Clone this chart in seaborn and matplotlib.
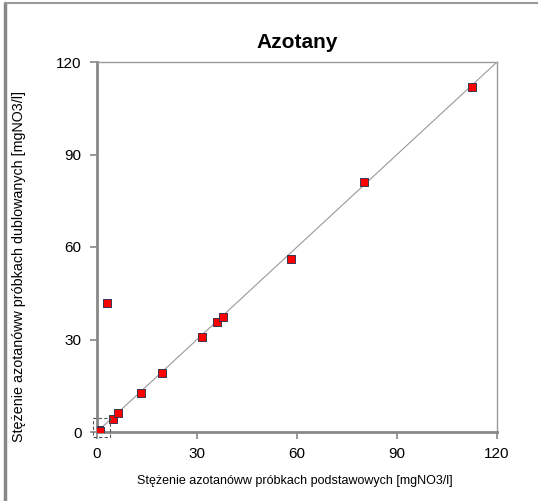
import pandas as pd
import matplotlib.pyplot as plt
import matplotlib.patches as mpatches
import matplotlib.lines as mlines
import seaborn as sns

podstawowe = [0.3, 0.6, 0.9, 3.0, 4.7, 6.4, 13.2, 19.5, 31.4, 35.9, 37.9, 58.2, 80.1, 112.5]
dublowane = [0.2, 0.5, 0.4, 41.8, 4.2, 6.1, 12.7, 19.1, 30.9, 35.6, 37.4, 56.1, 81.1, 111.9]
ticki = [0, 30, 60, 90, 120]
zakres = [0, 120]
ramka_zoom = [-1.1, -1.6, 5.0, 6.1]  # x, y, szer., wys.

df = pd.DataFrame({'x': podstawowe, 'y': dublowane})

sns.set_style("white", {'text.color': 'black', 'axes.labelcolor': 'black',
                        'xtick.color': 'black', 'ytick.color': 'black'})
plt.rcParams['font.family'] = ['Liberation Sans', 'DejaVu Sans']

fig = plt.figure(figsize=(5.38, 5.01), dpi=100)
ax = fig.add_axes([97 / 538, 1 - 432 / 501, 400 / 538, 370 / 501])

# linia 1:1
ax.plot(zakres, zakres, color='#999999', lw=0.8, zorder=1)

sns.scatterplot(data=df, x='x', y='y', ax=ax, marker='s', s=40,
                color='#ff0000', edgecolor='#3b3550', linewidth=0.7, zorder=3)

ax.add_patch(mpatches.Rectangle((ramka_zoom[0], ramka_zoom[1]), ramka_zoom[2], ramka_zoom[3],
                                fill=False, ls=(0, (3, 2)), lw=0.8, ec='#555555',
                                clip_on=False, zorder=4))

ax.set_xlim(zakres)
ax.set_ylim(zakres)
ax.set_xticks(ticki)
ax.set_yticks(ticki)
ax.tick_params(axis='both', direction='out', length=5, width=1.2, color='#888888',
               labelcolor='black', labelsize=11, pad=6, bottom=True, left=True)

for s in ['left', 'bottom']:
    ax.spines[s].set_color('#888888')
    ax.spines[s].set_linewidth(2)
for s in ['top', 'right']:
    ax.spines[s].set_color('#999999')
    ax.spines[s].set_linewidth(1)

ax.set_xlabel('Stężenie azotanóww próbkach podstawowych [mgNO3/l]', fontsize=9, color='black')
ax.set_ylabel('Stężenie azotanóww próbkach dublowanych [mgNO3/l]', fontsize=10.3, color='black')
ax.xaxis.set_label_coords(0.495, -0.115)
ax.yaxis.set_label_coords(-0.177, 0.446)
ax.set_title('Azotany', fontsize=15, fontweight='bold', pad=10, color='black')

# ramka obrazka
fig.add_artist(mlines.Line2D([5 / 538, 5 / 538], [0, 1 - 3 / 501], color='#888888', lw=2.5))
fig.add_artist(mlines.Line2D([5 / 538, 1], [1 - 3 / 501, 1 - 3 / 501], color='#999999', lw=1.5))

plt.savefig('out.png', dpi=100)
